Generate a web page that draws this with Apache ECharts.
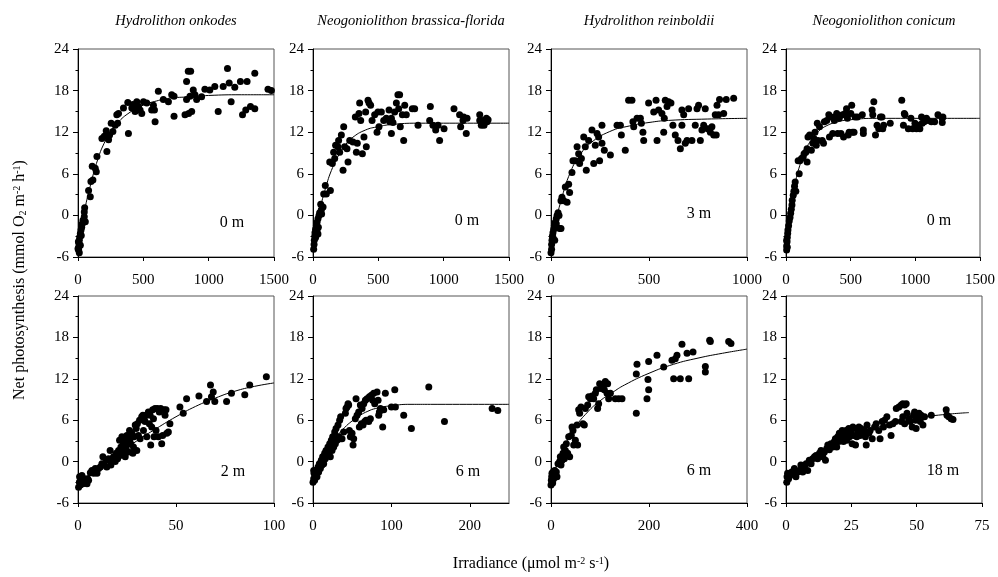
<!DOCTYPE html>
<html><head><meta charset="utf-8">
<script src="https://cdn.jsdelivr.net/npm/echarts@6/dist/echarts.min.js"></script>
<style>html,body{margin:0;padding:0;background:#fff}#c{width:998px;height:577px}</style>
</head><body><div id="c"></div><script>
const titles = ['Hydrolithon onkodes','Neogoniolithon brassica-florida','Hydrolithon reinboldii','Neogoniolithon conicum'];
const depths = ['0 m','0 m','3 m','0 m','2 m','6 m','6 m','18 m'];
const xMax = [1500,1500,1000,1500,100,250,400,75];
const xStep = [500,500,500,500,50,100,200,25];
const yMin = -6, yMax = 24, yStep = 6;

const pts1 = [[5,-5.0],[5,-4.6],[8,-4.1],[10,-3.6],[13,-3.1],[18,-2.6],[23,-2.1],[28,-1.7],[33,-1.2],[38,-0.7],[48,-0.2],[48,0.5],[51,1.1],[56,-0.9],[0,-4.8],[3,-3.8],[10,-5.4],[18,-4.3],[25,-2.9],
[81,3.6],[94,2.7],[99,4.9],[114,5.1],[109,7.1],[132,6.8],[140,6.3],[145,8.5],[183,11.1],[201,11.4],[216,12.2],[221,9.2],[234,10.9],[242,11.6],[254,13.3],[267,12.1],[285,13.0],[297,14.5],[310,14.7],[303,13.3],[348,15.5],[386,11.8],[381,16.3],[412,15.5],[437,15.0],[450,16.4],[463,15.7],[475,15.2],[488,14.7],[501,16.4],[526,16.2],[420,16.0],[445,15.8],[577,15.9],[585,15.2],[590,13.5],[564,15.2],[615,17.9],[653,16.7],[692,16.4],[717,17.4],[735,17.2],[735,14.3],[819,14.5],[831,19.3],[844,20.8],[862,20.8],[831,16.7],[847,14.7],[870,15.0],[882,18.1],[895,17.4],[857,17.2],[908,16.7],[946,17.1],[971,18.2],[1009,18.1],[1047,18.6],[1073,15.0],[1111,18.6],[1144,21.2],[1157,19.1],[1172,16.4],[1200,18.5],[1243,19.3],[1259,14.5],[1284,15.2],[1294,19.3],[1320,15.7],[1353,15.4],[1353,20.5],[1454,18.2],[1480,18.0]];
const fit1 = [[0,-4.7],[25,-2],[50,0.7],[100,4.7],[150,8],[200,10.4],[250,12],[300,13.3],[400,14.9],[500,15.9],[600,16.5],[700,16.9],[850,17.1],[1000,17.3],[1250,17.4],[1500,17.4]];

const pts2 = [[5,-4.9],[8,-4.2],[10,-3.6],[13,-3.0],[15,-2.5],[20,-2.0],[26,-1.5],[31,-1.0],[38,-0.5],[46,0],[51,0.4],[64,0.8],[59,1.6],[31,-2.2],[41,-1.7],[20,-3.2],[38,-2.7],
[77,1.2],[66,0.2],[82,3.1],[94,4.3],[102,3.1],[133,3.6],[128,7.7],[148,7.5],[158,9.1],[166,8.2],[173,10.1],[191,9.9],[196,10.8],[204,9.1],[217,11.6],[230,6.5],[235,12.8],[242,9.9],[260,9.6],[268,7.7],[281,10.8],[306,10.6],[324,14.2],[332,9.1],[339,10.4],[352,14.7],[357,16.2],[365,13.7],[378,8.9],[390,11.3],[403,14.9],[408,9.9],[421,16.6],[429,16.2],[441,15.9],[452,13.7],[472,14.5],[490,12.0],[497,14.9],[505,12.8],[523,14.9],[541,13.7],[561,14.0],[582,15.2],[600,14.0],[612,13.4],[625,14.9],[638,16.2],[650,17.4],[663,17.4],[656,15.4],[668,12.8],[684,14.5],[702,15.9],[694,10.8],[714,14.5],[600,11.8],[587,13.5],[760,15.4],[778,15.4],[804,13.0],[898,15.7],[893,13.7],[918,13.0],[939,12.3],[957,13.0],[969,10.8],[1003,12.5],[1079,15.4],[1122,14.5],[1130,12.8],[1148,13.7],[1153,14.2],[1173,11.8],[1179,14.0],[1276,14.5],[1288,13.0],[1301,13.7],[1309,13.0],[1327,14.0],[1276,13.7],[1332,13.5],[1340,13.8]];
const fit2 = [[0,-4.5],[25,-1.8],[50,0.6],[100,4.2],[150,6.9],[200,8.8],[250,10.2],[300,11.2],[400,12.3],[500,12.8],[600,13.1],[800,13.3],[1000,13.3],[1500,13.3]];

const pts3 = [[0,-5.4],[3,-4.9],[3,-4.2],[5,-3.6],[7,-3.0],[10,-2.5],[14,-2.0],[17,-1.5],[22,-1.0],[27,-0.5],[31,0],[36,0.4],[41,0],[44,-1.9],[51,-1.9],[10,-3.2],[19,-3.6],[27,-1.2],
[51,2.1],[56,2.6],[65,2.1],[73,4.1],[82,1.9],[90,4.5],[95,3.3],[107,6.2],[112,7.9],[124,7.9],[133,9.9],[141,8.9],[146,7.5],[155,8.2],[167,11.3],[175,9.9],[180,6.5],[192,10.8],[209,12.3],[218,7.5],[226,10.1],[235,11.8],[243,11.3],[248,7.9],[260,13.0],[260,10.4],[272,9.4],[303,8.7],[337,13.0],[354,13.0],[359,11.6],[379,9.4],[396,16.6],[413,16.6],[418,13.5],[422,12.8],[439,14.0],[456,14.0],[461,13.3],[469,12.0],[473,10.8],[498,16.2],[524,14.9],[536,16.6],[541,10.8],[549,15.2],[566,14.7],[575,12.0],[578,14.0],[583,16.6],[592,15.7],[600,16.4],[612,16.2],[622,13.0],[634,11.6],[648,10.8],[660,9.6],[668,15.2],[668,13.0],[677,14.5],[685,10.4],[694,10.8],[702,15.4],[719,10.8],[736,13.0],[745,15.4],[753,15.9],[762,10.8],[770,12.3],[779,13.0],[787,15.4],[799,12.5],[813,12.0],[821,12.8],[830,11.6],[838,14.5],[843,11.6],[855,14.5],[847,15.9],[860,16.7],[881,14.7],[894,16.7],[932,16.9]];
const fit3 = [[0,-4.8],[25,-1],[50,2],[100,6.3],[150,8.8],[200,10.4],[300,12.1],[400,12.9],[500,13.4],[600,13.7],[800,13.9],[1000,14.0]];

const pts4 = [[5,-5.0],[5,-4.4],[8,-3.8],[10,-3.2],[13,-2.6],[15,-2.1],[20,-1.5],[25,-0.8],[31,-0.3],[36,0.3],[41,0.9],[46,1.5],[48,2.2],[56,2.9],[61,3.5],[66,4.2],[71,4.8],[76,3.5],[5,-3.6],[10,-4.6],
[102,6.0],[94,7.9],[107,7.9],[120,8.2],[132,8.4],[140,8.9],[153,9.1],[163,9.6],[163,7.7],[170,11.3],[183,11.6],[196,9.4],[208,10.4],[216,11.1],[224,12.0],[234,10.1],[242,13.3],[247,10.8],[259,12.8],[280,10.8],[290,10.4],[297,13.5],[315,13.7],[331,14.5],[336,11.3],[348,14.2],[361,11.8],[374,13.7],[381,14.2],[392,14.7],[399,11.8],[412,14.0],[425,11.8],[437,14.5],[445,11.3],[458,14.7],[468,15.4],[475,14.0],[481,11.6],[488,12.0],[501,14.7],[508,15.9],[514,12.0],[526,12.0],[534,14.2],[552,14.2],[590,14.5],[598,12.3],[598,11.8],[666,15.2],[671,14.5],[679,16.4],[692,11.6],[704,13.0],[717,12.5],[730,14.2],[742,14.2],[748,12.5],[755,13.0],[806,13.3],[895,16.6],[908,13.0],[915,14.7],[920,14.5],[946,12.5],[966,14.0],[979,12.5],[997,13.3],[1009,12.5],[1022,13.0],[1035,12.5],[1048,14.2],[1053,13.3],[1068,13.5],[1086,14.0],[1098,13.7],[1124,13.5],[1149,13.5],[1175,14.5],[1208,14.0],[1208,13.4],[1213,14.2]];
const fit4 = [[0,-4.8],[20,-1.5],[40,1.3],[70,4.5],[100,6.8],[150,9.4],[200,11.0],[250,12.1],[300,12.8],[400,13.5],[500,13.8],[700,14.0],[1500,14.0]];

const pts5 = [[0.3,-3.7],[0.7,-3.0],[0.8,-2.2],[1.2,-3.4],[1.5,-2.7],[2.0,-2.0],[2.5,-3.2],[3.2,-2.5],[3.9,-3.0],[4.6,-3.2],[4.9,-2.5],[5.4,-2.7],[6.3,-1.6],[7.1,-1.3],[8.0,-1.7],[8.8,-1.0],[9.7,-1.7],[10.5,-1.0],[11.4,-0.8],[12.2,-0.3],[12.7,0.7],[13.4,-0.5],[14.4,0.2],[14.7,-0.8],[15.6,0.4],[16.4,1.6],[16.8,-0.5],[17.3,0.2],[18.1,0.7],[19.0,0],[19.5,1.2],[20.2,0.4],[20.7,1.6],[21.2,3.1],[21.5,0.9],[21.9,2.1],[22.4,3.6],[22.9,1.4],[23.2,2.6],[23.6,3.1],[24.1,0.7],[24.6,2.1],[24.9,3.8],[25.3,2.9],[25.8,1.4],[26.3,4.5],[26.6,3.3],[26.9,2.6],[27.5,4.1],[28.0,1.2],[28.3,2.1],[28.6,3.6],[29.2,5.3],[29.7,4.8],[30.0,1.6],[30.3,5.5],[30.8,3.8],[31.4,6.0],[31.7,3.3],[32.5,6.5],[33.1,6.7],[33.4,4.5],[33.7,6.2],[34.2,5.8],[34.7,6.7],[35.1,3.6],[35.9,7.2],[36.4,5.5],[36.8,6.7],[37.1,2.4],[37.6,5.0],[38.1,7.5],[38.5,6.2],[38.8,3.6],[39.3,7.7],[39.8,4.5],[40.5,7.7],[41.0,3.6],[41.5,7.2],[42.2,7.7],[42.7,2.6],[43.2,3.8],[43.9,7.5],[44.4,6.7],[44.9,7.5],[45.3,4.1],[46.1,4.3],[46.9,5.5],[52.0,7.9],[53.7,7.0],[55.4,9.1],[61.7,9.5],[65.6,8.7],[67.6,11.1],[68.1,9.4],[69.0,10.1],[69.8,8.7],[75.8,8.7],[78.3,9.9],[85.1,9.7],[87.6,11.1],[96.1,12.3]];
const fit5 = [[0,-3],[10,-1.1],[20,1.0],[30,3.0],[40,4.8],[50,6.5],[60,8.0],[70,9.2],[80,10.2],[90,10.9],[100,11.4]];

const pts6 = [[0,-3.0],[0.9,-2.5],[1.3,-1.7],[0.9,-1.3],[2.1,-2.7],[3.0,-2.0],[3.8,-1.3],[5.1,-2.2],[6.4,-0.8],[7.2,-1.5],[8.1,-0.3],[9.4,-1.0],[10.6,0.2],[11.5,-0.5],[12.3,0.7],[13.6,-0.3],[14.9,1.2],[15.7,0.4],[16.6,1.6],[17.9,0.9],[19.1,2.1],[20.0,1.4],[21.3,2.6],[22.1,0.7],[23.4,3.1],[24.3,1.6],[25.1,3.6],[26.4,2.1],[27.7,4.3],[28.5,2.6],[29.4,4.8],[30.6,3.1],[31.9,5.3],[32.8,3.6],[34.0,6.0],[35.3,6.5],[34.9,3.3],[37.0,3.3],[39.1,4.3],[41.3,7.0],[42.1,7.7],[43.4,7.9],[44.7,8.4],[45.5,8.2],[46.4,4.5],[47.7,3.6],[49.8,4.1],[51.1,2.4],[54.9,9.1],[51.9,3.3],[54.0,6.2],[56.2,6.7],[58.3,7.2],[59.1,5.0],[60.4,8.2],[61.7,5.5],[62.6,7.7],[63.8,5.3],[64.7,8.4],[66.0,5.8],[66.8,8.9],[67.7,6.0],[68.9,9.1],[71.1,5.8],[71.9,9.4],[73.2,6.2],[74.5,9.6],[76.2,8.9],[77.4,9.9],[78.7,8.4],[81.7,10.1],[83.0,8.9],[83.8,6.7],[84.7,7.2],[86.0,7.7],[88.9,5.0],[90.2,7.5],[92.3,9.9],[100.0,7.9],[104.3,10.4],[105.1,7.9],[115.7,6.7],[125.5,4.8],[147.7,10.8],[167.7,5.8],[228.5,7.7],[235.7,7.4]];
const fit6 = [[0,-2.5],[10,0],[20,2],[30,3.6],[40,4.9],[50,5.9],[60,6.7],[70,7.3],[80,7.7],[100,8.1],[125,8.3],[150,8.3],[250,8.3]];

const pts7 = [[0,-3.4],[0.7,-2.7],[1.4,-2.2],[2.0,-1.7],[3.4,-3.1],[4.1,-1.5],[5.4,-2.5],[7.5,-1.3],[10.9,-1.5],[12.2,-2.2],[14.3,-0.3],[17.7,0],[19.0,0.7],[20.4,-0.5],[22.4,0.2],[24.5,1.2],[25.9,2.1],[27.2,0.4],[29.3,1.6],[31.3,2.6],[34.0,1.2],[36.1,3.6],[38.1,0.7],[41.5,3.8],[42.9,5.0],[44.9,4.5],[46.3,2.4],[49.7,3.1],[53.1,5.3],[54.4,2.4],[56.5,7.5],[58.5,7.0],[61.2,7.9],[65.3,5.5],[68.0,5.3],[70.1,7.7],[74.8,8.2],[76.9,9.4],[80.3,9.1],[83.7,9.5],[87.1,9.1],[90.5,9.9],[92.5,10.4],[95.2,7.7],[97.3,8.4],[99.3,11.3],[102.0,10.6],[106.1,11.1],[108.8,10.4],[110.9,11.6],[114.3,9.9],[115.6,11.3],[117.7,9.1],[121.1,9.9],[131.3,9.1],[138.1,9.1],[144.9,9.1],[174.1,7.0],[174.1,12.7],[175.5,14.1],[195.9,9.1],[197.9,11.9],[199.3,10.4],[199.3,14.5],[216.3,15.4],[230.0,13.7],[246.9,14.7],[250.3,12.0],[253.7,14.9],[257.1,15.4],[263.9,12.0],[267.3,17.0],[277.6,15.7],[281.0,12.0],[289.8,15.9],[315.0,13.8],[315.0,13.0],[323.8,17.6],[325.2,17.4],[362.6,17.4],[367.3,17.1]];
const fit7 = [[0,-3],[25,1.8],[50,5.0],[75,7.2],[100,8.8],[125,10.0],[150,11.1],[200,12.8],[250,14.1],[300,15.0],[350,15.7],[400,16.3]];

const pts8 = [[0.3,-3.0],[0.4,-2.2],[0.6,-1.7],[1.0,-2.5],[1.5,-2.0],[2.2,-1.5],[2.8,-1.8],[3.2,-1.0],[3.8,-2.2],[4.5,-1.5],[5.1,-1.3],[5.7,-0.5],[6.4,-1.5],[7.0,-0.8],[7.7,-0.3],[8.3,-1.3],[8.9,0.2],[9.6,-0.3],[10.2,0.4],[10.9,0.7],[11.5,0.9],[12.1,0.4],[12.8,1.2],[13.4,1.6],[14.1,0.7],[14.7,1.4],[15.1,0.2],[15.6,1.9],[16.0,2.4],[16.6,1.7],[17.2,2.6],[17.9,2.1],[18.5,2.9],[18.9,3.3],[19.4,2.1],[19.8,3.6],[20.2,2.9],[20.4,4.1],[21.1,3.3],[21.5,4.5],[22.0,2.9],[22.4,3.8],[23.0,4.5],[23.3,3.1],[23.6,4.1],[24.0,4.8],[24.3,3.6],[24.9,4.3],[25.3,2.6],[25.6,5.0],[25.9,3.8],[26.6,2.4],[26.8,4.8],[27.1,3.6],[27.5,4.3],[27.9,5.0],[28.4,3.8],[28.7,4.8],[29.4,4.1],[30.0,4.5],[30.4,3.6],[30.7,2.4],[31.0,5.3],[31.7,4.1],[32.2,4.5],[33.0,3.3],[33.9,5.0],[34.5,5.5],[35.5,4.5],[36.0,3.3],[36.8,5.8],[37.3,5.0],[37.7,6.0],[38.6,6.5],[39.6,5.3],[40.2,3.8],[40.9,5.5],[41.9,5.8],[42.2,7.7],[43.2,7.9],[44.1,8.2],[44.7,8.4],[45.4,8.2],[46.0,8.4],[44.1,5.8],[44.7,6.5],[45.4,5.5],[46.3,7.0],[47.0,6.2],[47.5,5.8],[48.3,5.0],[48.8,6.7],[49.2,7.2],[49.6,6.0],[49.8,4.8],[50.5,6.5],[50.9,7.0],[51.4,5.8],[51.7,6.7],[52.4,5.3],[53.0,6.5],[55.6,6.7],[61.3,7.5],[61.6,6.7],[62.3,6.5],[63.2,6.2],[63.9,6.1]];
const fit8 = [[0,-2.5],[10,0.2],[20,2.5],[30,4.3],[40,5.5],[50,6.3],[60,6.8],[70,7.1]];

const points = [pts1,pts2,pts3,pts4,pts5,pts6,pts7,pts8];
const fits = [fit1,fit2,fit3,fit4,fit5,fit6,fit7,fit8];

const FONT = '"Liberation Serif", "Times New Roman", serif';
const lefts = [78,313,551,786];
const tops = [49,296];
const W = 196, H = 208;
const grids = [], xAxes = [], yAxes = [], series = [], graphics = [];
for (let i = 0; i < 8; i++) {
  const r = Math.floor(i/4), c = i % 4;
  grids.push({left: lefts[c], top: tops[r], width: W, height: H - r, show: true, borderColor: '#555', borderWidth: 1, backgroundColor: 'transparent'});
  xAxes.push({gridIndex: i, type: 'value', min: 0, max: xMax[i], interval: xStep[i],
    axisLine: {onZero: false, lineStyle: {color: '#000', width: 1}}, axisTick: {show: true, length: 4, lineStyle: {color: '#000'}},
    splitLine: {show: false},
    axisLabel: {color: '#000', fontFamily: FONT, fontSize: 15, margin: 16, showMaxLabel: xMax[i] % xStep[i] === 0, formatter: v => String(v)}});
  yAxes.push({gridIndex: i, type: 'value', min: yMin, max: yMax, interval: yStep,
    axisLine: {show: true, onZero: false, lineStyle: {color: '#000', width: 1}}, axisTick: {show: true, length: 5, lineStyle: {color: '#000'}},
    minorTick: {show: true, splitNumber: 2, length: 2.5, lineStyle: {color: '#000'}},
    splitLine: {show: false}, axisLabel: {color: '#000', fontFamily: FONT, fontSize: 15, margin: 9, formatter: v => String(v)}});
  series.push({type: 'scatter', xAxisIndex: i, yAxisIndex: i, data: points[i], symbol: 'circle', symbolSize: 7,
    itemStyle: {color: '#000', opacity: 1}, silent: true, z: 3});
  series.push({type: 'line', xAxisIndex: i, yAxisIndex: i, data: fits[i], smooth: 0.5, showSymbol: false,
    lineStyle: {color: '#000', width: 1}, silent: true, z: 2});
}
const depthPos = [[232,223],[467,221],[699,214],[939,221],[233,472],[468,472],[699,471],[943,471]];
depths.forEach((d, i) => {
  graphics.push({type: 'text', x: depthPos[i][0], y: depthPos[i][1], style: {text: d, fontFamily: FONT, fontSize: 16, fill: '#000', align: 'center', verticalAlign: 'middle'}});
});
titles.forEach((t, c) => {
  graphics.push({type: 'text', x: lefts[c] + W/2, y: 21, style: {text: t, fontFamily: FONT, fontStyle: 'italic', fontSize: 14.5, fill: '#000', align: 'center', verticalAlign: 'middle'}});
});
graphics.push({type: 'text', x: 20, y: 280, rotation: Math.PI/2, style: {
  text: 'Net photosynthesis (mmol O{sub|2} m{sup|-2} h{sup|-1})', fontFamily: FONT, fontSize: 16, fill: '#000', align: 'center', verticalAlign: 'middle',
  rich: {sub: {fontFamily: FONT, fontSize: 10, verticalAlign: 'bottom', fill: '#000'}, sup: {fontFamily: FONT, fontSize: 10, verticalAlign: 'top', fill: '#000'}}}});
graphics.push({type: 'text', x: 531, y: 564, style: {
  text: 'Irradiance (μmol m{sup|-2} s{sup|-1})', fontFamily: FONT, fontSize: 16, fill: '#000', align: 'center', verticalAlign: 'middle',
  rich: {sup: {fontFamily: FONT, fontSize: 10, verticalAlign: 'top', fill: '#000'}}}});

const chart = echarts.init(document.getElementById('c'), null, {renderer: 'canvas'});
chart.setOption({animation: false, backgroundColor: '#fff', grid: grids, xAxis: xAxes, yAxis: yAxes, series: series, graphic: graphics});
</script></body></html>
